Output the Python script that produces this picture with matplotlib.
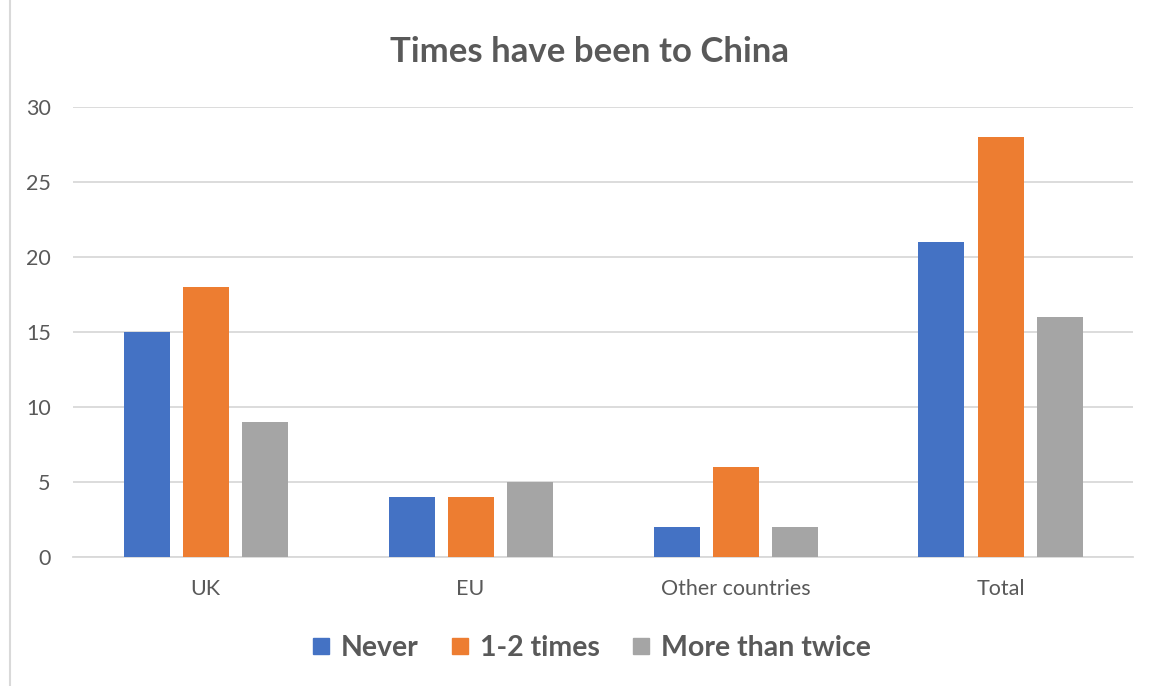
import matplotlib
matplotlib.use("Agg")
import matplotlib.pyplot as plt
import numpy as np
from matplotlib.lines import Line2D

categories = ["UK", "EU", "Other countries", "Total"]
series_names = ["Never", "1-2 times", "More than twice"]
never = [15, 4, 2, 21]
one_two = [18, 4, 6, 28]
more_than_twice = [9, 5, 2, 16]
yticks = [0, 5, 10, 15, 20, 25, 30]

colors = ["#4472C4", "#ED7D31", "#A5A5A5"]
text_color = "#595959"
grid_color = "#D9D9D9"

plt.rcParams["font.family"] = ["Lato", "DejaVu Sans"]

fig = plt.figure(figsize=(11.6, 6.86), dpi=100)
ax = fig.add_axes([73 / 1160, 1 - 557 / 686, (1133 - 73) / 1160, (557 - 107) / 686])

x = np.arange(len(categories))
width = 46 / 265
step = 59 / 265
for i, (vals, c) in enumerate(zip([never, one_two, more_than_twice], colors)):
    ax.bar(x + (i - 1) * step, vals, width=width, color=c, zorder=3, label=series_names[i])

ax.set_xlim(-0.5, len(categories) - 0.5)
ax.set_ylim(0, 30)
ax.set_yticks(yticks)
ax.set_xticks(x)
ax.set_xticklabels(categories)
ax.yaxis.grid(True, color=grid_color, linewidth=1.3, zorder=0)
for s in ["top", "right", "left"]:
    ax.spines[s].set_visible(False)
ax.spines["bottom"].set_color(grid_color)
ax.spines["bottom"].set_linewidth(1.3)
ax.tick_params(axis="both", length=0, labelsize=15.5, colors=text_color)
ax.tick_params(axis="y", pad=16)
ax.tick_params(axis="x", pad=16)

fig.text(589 / 1160, 1 - 52 / 686, "Times have been to China", ha="center", va="center",
         fontsize=25, fontweight="bold", color=text_color)

handles = [Line2D([], [], marker="s", linestyle="none", markersize=11,
                  markerfacecolor=c, markeredgecolor=c) for c in colors]
leg = fig.legend(handles, series_names, loc="center", bbox_to_anchor=(591 / 1160, 1 - 648 / 686),
                 ncol=3, frameon=False, handlelength=0.7, handletextpad=0.35,
                 columnspacing=1.1, prop={"size": 20.5, "weight": "bold"})
for t in leg.get_texts():
    t.set_color(text_color)

# chart frame edge on the left
fig.add_artist(Line2D([10 / 1160, 10 / 1160], [0, 1], color="#D9D9D9", linewidth=1.5,
                      transform=fig.transFigure))

fig.savefig("out.png", dpi=100)
